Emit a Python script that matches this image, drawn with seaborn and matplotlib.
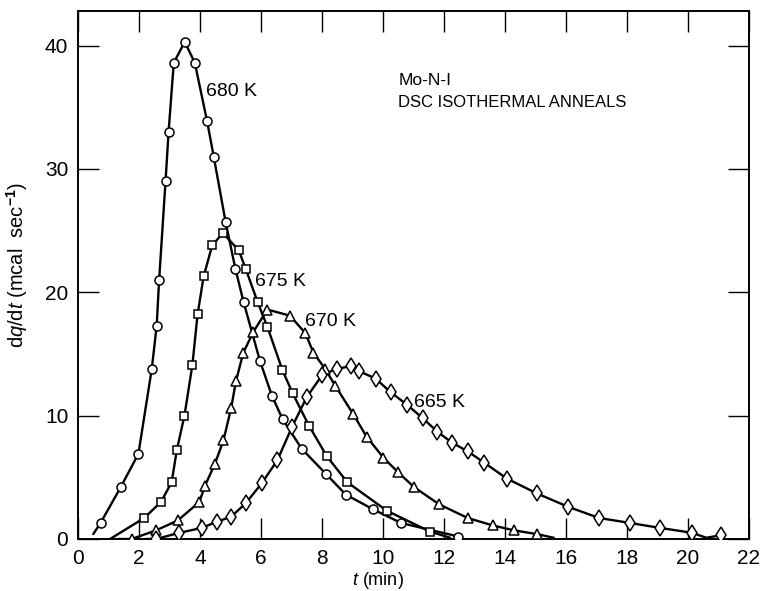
import matplotlib
matplotlib.use("Agg")
import matplotlib.pyplot as plt
import seaborn as sns
import pandas as pd

# ---- data ----
t_680 = [0.74, 1.40, 1.98, 2.42, 2.58, 2.66, 2.87, 2.97, 3.14, 3.50, 3.83, 4.23, 4.45, 4.84,
         5.16, 5.43, 5.97, 6.36, 6.71, 7.34, 8.12, 8.78, 9.68, 10.59, 12.47]
q_680 = [1.3, 4.2, 6.9, 13.8, 17.3, 21.0, 29.0, 33.0, 38.6, 40.3, 38.6, 33.9, 31.0, 25.7,
         21.9, 19.2, 14.4, 11.6, 9.7, 7.3, 5.3, 3.6, 2.4, 1.3, 0.2]

t_675 = [2.17, 2.72, 3.07, 3.24, 3.49, 3.75, 3.92, 4.12, 4.40, 4.75, 5.27, 5.50, 5.89,
         6.21, 6.70, 7.04, 7.57, 8.16, 8.83, 10.12, 11.54]
q_675 = [1.7, 3.0, 4.6, 7.2, 10.0, 14.1, 18.2, 21.3, 23.8, 24.8, 23.4, 21.9, 19.2,
         17.2, 13.7, 11.8, 9.2, 6.7, 4.6, 2.3, 0.6]

t_670 = [1.76, 2.56, 3.27, 3.98, 4.16, 4.49, 4.77, 5.02, 5.18, 5.42, 5.75, 6.21, 6.95,
         7.45, 7.72, 8.10, 8.44, 9.03, 9.46, 10.01, 10.50, 11.02, 11.85, 12.78, 13.60,
         14.30, 15.04]
q_670 = [0.0, 0.7, 1.5, 3.0, 4.3, 6.1, 8.0, 10.6, 12.8, 15.1, 16.8, 18.6, 18.1,
         16.7, 15.1, 13.8, 12.4, 10.1, 8.3, 6.6, 5.4, 4.2, 2.8, 1.7, 1.1,
         0.7, 0.4]

t_665 = [2.56, 3.32, 4.06, 4.55, 5.02, 5.50, 6.02, 6.54, 7.02, 7.50, 8.01, 8.48, 8.94,
         9.22, 9.76, 10.25, 10.78, 11.30, 11.78, 12.27, 12.78, 13.31, 14.06, 15.04,
         16.08, 17.09, 18.10, 19.08, 20.14, 21.07]
q_665 = [0.0, 0.5, 0.9, 1.4, 1.8, 2.9, 4.5, 6.4, 9.1, 11.5, 13.3, 13.8, 14.0,
         13.6, 13.0, 11.9, 10.9, 9.8, 8.7, 7.8, 7.1, 6.2, 4.9, 3.7,
         2.6, 1.7, 1.3, 0.9, 0.5, 0.3]

# where each drawn curve begins and ends (beyond the first/last markers)
curve_start = {"680 K": (0.50, 0.4), "675 K": (1.05, 0.0), "670 K": (1.30, 0.0), "665 K": (2.20, 0.0)}
curve_end = {"680 K": None, "675 K": (12.2, 0.1), "670 K": (15.6, 0.1), "665 K": (20.6, 0.1)}

series = {
    "680 K": (t_680, q_680, "o", 6.5),
    "675 K": (t_675, q_675, "s", 6.0),
    "670 K": (t_670, q_670, "^", 7.0),
    "665 K": (t_665, q_665, "d", 8.0),
}

curve_labels = ["680 K", "675 K", "670 K", "665 K"]
label_x = [4.2, 5.8, 7.44, 11.02]
label_y = [36.3, 20.9, 17.6, 11.1]

x_ticks = [0, 2, 4, 6, 8, 10, 12, 14, 16, 18, 20, 22]
y_ticks = [0, 10, 20, 30, 40]

# ---- figure ----
sns.set_style("ticks")
plt.rcParams["font.family"] = ["Liberation Sans", "DejaVu Sans"]
plt.rcParams["mathtext.fontset"] = "custom"
plt.rcParams["mathtext.rm"] = "Liberation Sans"
plt.rcParams["mathtext.it"] = "Liberation Sans:italic"
plt.rcParams["mathtext.bf"] = "Liberation Sans:bold"
plt.rcParams["text.color"] = "black"
plt.rcParams["axes.labelcolor"] = "black"
plt.rcParams["xtick.color"] = "black"
plt.rcParams["ytick.color"] = "black"

fig = plt.figure(figsize=(7.66, 5.91), dpi=100)
ax = fig.add_axes([78 / 766, 52 / 591, (749 - 78) / 766, (539 - 11) / 591])

for name, (t, q, mk, ms) in series.items():
    lt = list(t)
    lq = list(q)
    s = curve_start[name]
    if s is not None:
        lt = [s[0]] + lt
        lq = [s[1]] + lq
    e = curve_end[name]
    if e is not None:
        pts = sorted(zip(lt + [e[0]], lq + [e[1]]))
        lt = [p[0] for p in pts]
        lq = [p[1] for p in pts]
    df_line = pd.DataFrame({"t": lt, "q": lq})
    sns.lineplot(data=df_line, x="t", y="q", ax=ax, color="black", linewidth=1.7,
                 sort=False, estimator=None, zorder=2)
    df_pts = pd.DataFrame({"t": t, "q": q})
    ax.plot(df_pts["t"], df_pts["q"], linestyle="none", marker=mk, markersize=ms,
            markerfacecolor="white", markeredgecolor="black", markeredgewidth=1.1, zorder=3)

for lab, lx, ly in zip(curve_labels, label_x, label_y):
    ax.text(lx, ly, lab, fontsize=14, ha="left", va="center", color="black")

ax.text(10.5, 37.2, "Mo-N-I", fontsize=12.5, ha="left", va="center", color="black")
ax.text(10.5, 35.4, "DSC ISOTHERMAL ANNEALS", fontsize=12, ha="left", va="center", color="black")

ax.set_xlim(0, 22)
ax.set_ylim(0, 42.8)
ax.set_xticks(x_ticks)
ax.set_yticks(y_ticks)
ax.set_xticklabels([str(v) for v in x_ticks])
ax.set_yticklabels([str(v) for v in y_ticks])
ax.tick_params(axis="both", which="major", direction="in", length=15, width=1.0,
               labelsize=15, pad=7, top=True, right=True, colors="black")
for sp in ax.spines.values():
    sp.set_linewidth(1.4)
    sp.set_color("black")

ax.set_xlabel(r"$\mathbf{\it{t}}$ (min)", fontsize=13)
ax.set_ylabel(r"d$q$/d$t$ (mcal  sec$^{\mathbf{-1}}$)", fontsize=14.5)
ax.xaxis.set_label_coords(0.447, -0.058)
ax.yaxis.set_label_coords(-0.071, 0.52)
ax.grid(False)

fig.savefig("out.png", dpi=100)
